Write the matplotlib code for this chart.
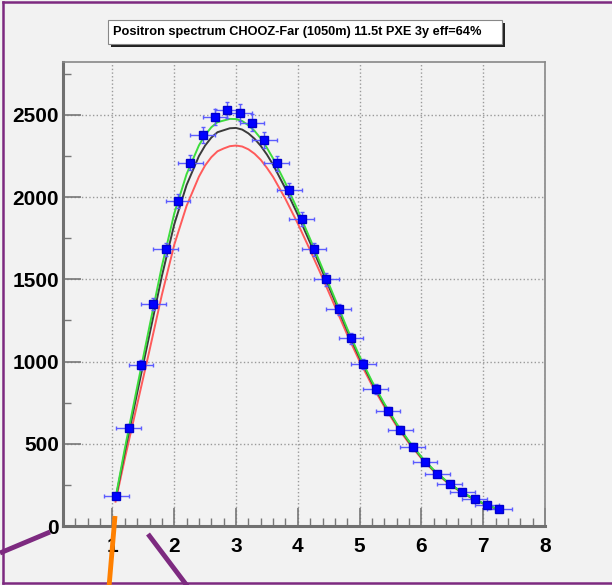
import numpy as np
import matplotlib
matplotlib.use("Agg")
import matplotlib.pyplot as plt
from matplotlib.lines import Line2D
from matplotlib.patches import Rectangle

#%% data

title = "Positron spectrum CHOOZ-Far (1050m) 11.5t PXE 3y eff=64%"

# measured points (visible energy, counts)
e_pts = [1.06, 1.26, 1.46, 1.66, 1.86, 2.06, 2.26, 2.46, 2.66, 2.86, 3.06,
         3.26, 3.46, 3.66, 3.86, 4.06, 4.26, 4.46, 4.66, 4.86, 5.06, 5.26,
         5.46, 5.66, 5.86, 6.06, 6.26, 6.46, 6.66, 6.86, 7.06, 7.26]
counts = [181, 595, 978, 1348, 1682, 1976, 2210, 2380, 2486, 2530, 2514,
          2453, 2346, 2206, 2043, 1865, 1682, 1500, 1317, 1141, 984, 832,
          700, 583, 481, 392, 319, 258, 207, 163, 128, 102]
count_err = [13, 24, 31, 37, 41, 44, 47, 49, 50, 50, 50,
             50, 48, 47, 45, 43, 41, 39, 36, 34, 31, 29,
             26, 24, 22, 20, 18, 16, 14, 13, 11, 10]
e_err = [0.2] * len(e_pts)

# curves
e_curve = [1.05, 1.2, 1.4, 1.6, 1.8, 2.0, 2.2, 2.4, 2.5, 2.6, 2.7, 2.8, 2.9,
           3.0, 3.1, 3.2, 3.3, 3.4, 3.5, 3.6, 3.8, 4.0, 4.2, 4.4, 4.6, 4.8,
           5.0, 5.2, 5.4, 5.6, 5.8, 6.0, 6.2, 6.4, 6.6, 6.8, 7.0, 7.2, 7.27]
green_curve = [170, 470, 845, 1215, 1580, 1900, 2140, 2315, 2378, 2425, 2456,
               2466, 2476, 2475, 2463, 2437, 2403, 2357, 2300, 2235, 2085,
               1920, 1745, 1565, 1383, 1200, 1032, 880, 745, 622, 515, 420,
               340, 275, 220, 175, 138, 108, 99]
black_curve = [162, 449, 809, 1165, 1520, 1834, 2074, 2250, 2314, 2362, 2395,
               2407, 2419, 2421, 2411, 2388, 2355, 2312, 2259, 2197, 2052,
               1893, 1722, 1546, 1368, 1188, 1022, 872, 738, 617, 511, 417,
               338, 273, 219, 174, 137, 107, 98]
red_curve = [148, 409, 739, 1069, 1406, 1710, 1947, 2125, 2193, 2243, 2279,
             2296, 2310, 2314, 2308, 2291, 2264, 2227, 2178, 2123, 1989,
             1839, 1677, 1509, 1336, 1163, 1002, 856, 726, 607, 503, 411,
             333, 270, 216, 172, 136, 106, 97]

x_ticks = [1, 2, 3, 4, 5, 6, 7, 8]
y_ticks = [0, 500, 1000, 1500, 2000, 2500]

#%% figure

W, H = 612, 585
bg = '#f2f2f2'
fig = plt.figure(figsize=(W / 100, H / 100), dpi=100, facecolor=bg)

def px(x, y):
    # pixel (from top-left) -> figure fraction
    return x / W, 1 - y / H

ax = fig.add_axes([63 / W, 1 - 526 / H, (545 - 63) / W, (526 - 62) / H])
ax.set_facecolor(bg)

ax.plot(e_curve, red_curve, color='#ff5a5a', lw=1.4, zorder=3)
ax.plot(e_curve, black_curve, color='#3a3a3a', lw=1.4, zorder=4)
ax.plot(e_curve, green_curve, color='#3ddd3d', lw=1.4, zorder=5)

ax.errorbar(e_pts, counts, xerr=e_err, yerr=count_err, fmt='s', color='#0000ff',
            ms=5.5, mec='#0000cc', ecolor='#5c5cff', elinewidth=1, capsize=1.5,
            capthick=1, zorder=6)

ax.set_xlim(0.2, 8.0)
ax.set_ylim(0, 2822)
ax.set_xticks(x_ticks)
ax.set_yticks(y_ticks)
ax.set_xticks(np.arange(0.2, 8.01, 0.2), minor=True)
ax.set_yticks(np.arange(250, 2800, 500), minor=True)

ax.grid(True, which='major', color='#9a9a9a', ls=':', lw=1)
ax.tick_params(which='major', direction='in', length=13, width=1.2,
               color='#777777', pad=4)
ax.tick_params(which='minor', direction='in', length=6, width=1,
               color='#777777')
ax.tick_params(axis='y', pad=3)
ax.tick_params(axis='x', pad=8)
for lab in ax.get_xticklabels() + ax.get_yticklabels():
    lab.set_fontfamily('Liberation Sans')
    lab.set_fontweight('bold')
    lab.set_fontsize(15)

for s in ['left', 'bottom']:
    ax.spines[s].set_color('#707070')
    ax.spines[s].set_linewidth(2.2)
for s in ['top', 'right']:
    ax.spines[s].set_color('#888888')
    ax.spines[s].set_linewidth(1.2)

#%% title box with shadow

bx0, by0, bx1, by1 = 108, 20, 502, 44
x0, y0 = px(bx0 + 3, by1 + 3)
fig.add_artist(Rectangle((x0, y0), (bx1 - bx0) / W, (by1 - by0) / H,
                         transform=fig.transFigure, facecolor='#222222',
                         edgecolor='none'))
x0, y0 = px(bx0, by1)
fig.add_artist(Rectangle((x0, y0), (bx1 - bx0) / W, (by1 - by0) / H,
                         transform=fig.transFigure, facecolor='white',
                         edgecolor='#888888', lw=0.8))
tx, ty = px(bx0 + 5, (by0 + by1) / 2)
fig.text(tx, ty, title, ha='left', va='center', fontsize=9.2,
         fontfamily='Liberation Sans', fontweight='bold', color='black')

#%% purple border and the hand-drawn strokes

purple = '#7d2a80'
for (xa, ya), (xb, yb) in [((3, 2), (612, 2)), ((3, 2), (3, 583)),
                           ((3, 583), (612, 583))]:
    fig.add_artist(Line2D(*zip(px(xa, ya), px(xb, yb)), color=purple, lw=1.8,
                          transform=fig.transFigure))

strokes = [((0, 553), (50, 532), purple), ((148, 534), (188, 587), purple),
           ((115, 516), (109, 587), '#ff8000')]
for (xa, ya), (xb, yb), c in strokes:
    fig.add_artist(Line2D(*zip(px(xa, ya), px(xb, yb)), color=c, lw=3.5,
                          solid_capstyle='butt', transform=fig.transFigure,
                          zorder=10))

fig.savefig('out.png', dpi=100, facecolor=bg)
